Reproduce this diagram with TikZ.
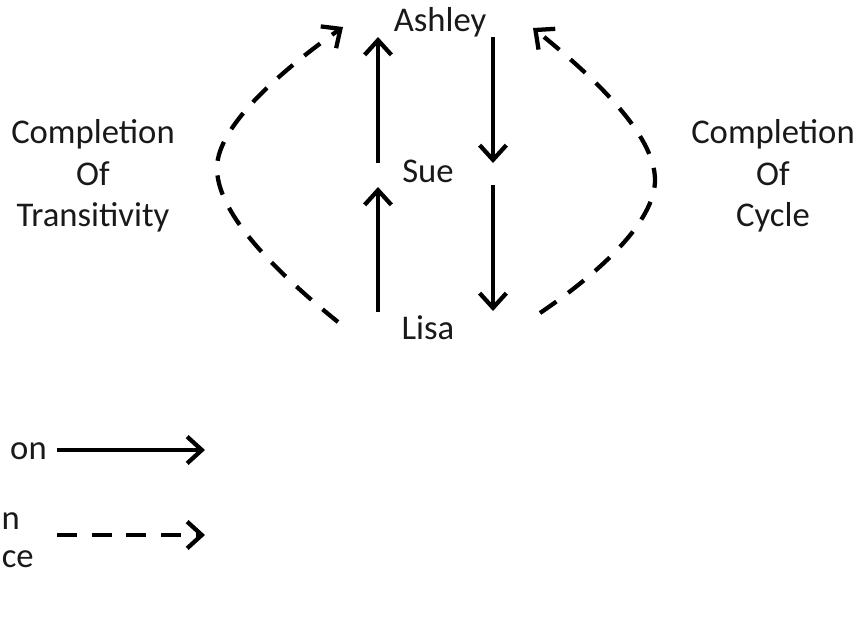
\documentclass[tikz,border=0pt]{standalone}
\usepackage{fontspec}
\setmainfont{Carlito}
\usetikzlibrary{arrows.meta}

\begin{document}
\begin{tikzpicture}[x=0.75pt,y=-0.75pt,
    given/.style={line width=3.2pt,-{Straight Barb[length=11pt,width=20pt]}},
    implied/.style={given,dash pattern=on 15pt off 11pt},
    person/.style={font=\fontsize{26}{31}\selectfont,text=black!90,inner sep=2pt},
    label/.style={person,align=center}]
                        \useasboundingbox (0,0) rectangle (864,618);
                        % people
                        \node [person] (ashley) at (440,22) {Ashley};
                        \node [person] (sue) at (428,171) {Sue};
                        \node [person] (lisa) at (428,328) {Lisa};
                        % arrow ends
                        \coordinate (lb) at (378,312);
                        \coordinate (lm1) at (378,187);
                        \coordinate (lm2) at (378,163);
                        \coordinate (lt) at (378,37);
                        \coordinate (rt) at (493,37);
                        \coordinate (rm1) at (493,163);
                        \coordinate (rm2) at (493,185);
                        \coordinate (rb) at (493,311);
                        \draw [given] (lb) -- (lm1);
                        \draw [given] (lm2) -- (lt);
                        \draw [given] (rt) -- (rm1);
                        \draw [given] (rm2) -- (rb);
                        % dashed completions
                        \coordinate (tl0) at (338,322);
                        \coordinate (tl1) at (343,27);
                        \coordinate (cy0) at (540,313);
                        \coordinate (cy1) at (533,28);
                        \draw [implied] (tl0) .. controls (255,255) and (217,205) .. (217,168)
                                               .. controls (217,125) and (285,68) .. (tl1);
                        \draw [implied] (cy0) .. controls (615,262) and (655,215) .. (655,180)
                                               .. controls (655,135) and (595,78) .. (cy1);
                        \node [label] (trans) at (93,176) {Completion\\Of\\Transitivity};
                        \node [label] (cycle) at (773,176) {Completion\\Of\\Cycle};
                        % legend
                        \node [person, inner sep=0pt, anchor=base east] (keya) at (47,459) {on};
                        \node [person, inner sep=0pt, anchor=base east] (keyb) at (20,529) {n};
                        \node [person, inner sep=0pt, anchor=base east] (keyc) at (34,567) {ce};
                        \coordinate (ka0) at (57,450);
                        \coordinate (ka1) at (205,450);
                        \coordinate (kb0) at (57,535);
                        \coordinate (kb1) at (205,535);
                        \draw [given] (ka0) -- (ka1);
                        \draw [implied] (kb0) -- (kb1);
                    \end{tikzpicture}
\end{document}
